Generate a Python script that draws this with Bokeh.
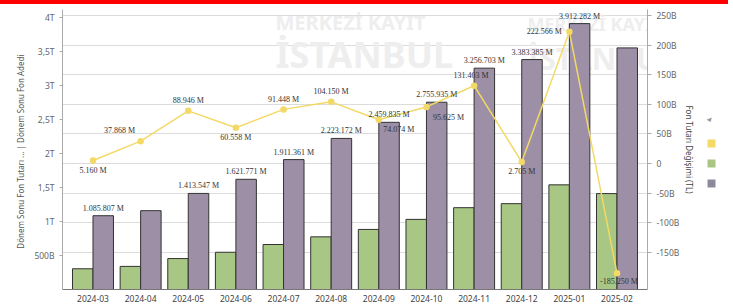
from bokeh.plotting import figure
from bokeh.models import (Range1d, LinearAxis, FixedTicker, ColumnDataSource, Legend,
                          LegendItem, Label, LabelSet, Div)
from bokeh.layouts import row, column
from bokeh.embed import file_html
from bokeh.resources import INLINE

# ---------------- data (values in million TL) ----------------
months = ["2024-03", "2024-04", "2024-05", "2024-06", "2024-07", "2024-08",
          "2024-09", "2024-10", "2024-11", "2024-12", "2025-01", "2025-02"]
fon_adedi = [305000, 340000, 455000, 548000, 662000, 775000,
             884000, 1032000, 1204000, 1263000, 1540000, 1411000]
fon_tutari = [1085807, 1160000, 1413547, 1621771, 1911361, 2223172,
              2459835, 2755935, 3256703, 3383385, 3912282, 3555000]
tutar_label_shown = [True, False, True, True, True, True,
                     True, True, True, True, True, False]
tutar_degisimi = [5160, 37868, 88946, 60558, 91448, 104150,
                  74074, 95625, 131403, 2705, 222566, -185250]
left_ticks = [500000, 1000000, 1500000, 2000000, 2500000, 3000000, 3500000, 4000000]
left_tick_labels = ["500B", "1T", "1,5T", "2T", "2,5T", "3T", "3,5T", "4T"]
right_ticks = [-150000, -100000, -50000, 0, 50000, 100000, 150000, 200000, 250000]
right_tick_labels = ["-150B", "-100B", "-50B", "0", "50B", "100B", "150B", "200B", "250B"]

# label offsets (px) for the change line labels -- style only
chg_dx = [0, -21, 0, 0, 0, 0, 20, 22, -3, 0, -25, 2]
chg_dy = [-10, 11, 10, -10, 10, 10, -10, -11, 10, -10, 0, -8]

GREEN = "#a9c784"
PURPLE = "#9d8fa6"
YELLOW = "#f3d966"
FONT = "Noto Sans"
H = 300


def fmt(v):
    s = f"{abs(v):,}".replace(",", ".")
    return ("-" if v < 0 else "") + s + " M"


idx = list(range(len(months)))
BW = 0.43
src = ColumnDataSource(dict(
    xg=[i - BW / 2 for i in idx],
    xp=[i + BW / 2 for i in idx],
    x=idx,
    adet=fon_adedi,
    tutar=fon_tutari,
    tutar_lbl=[fmt(v) if s else "" for v, s in zip(fon_tutari, tutar_label_shown)],
    chg=tutar_degisimi,
    chg_lbl=[fmt(v) for v in tutar_degisimi],
    dx=chg_dx,
    dy=chg_dy,
))

p = figure(width=698, height=H, output_backend="svg", toolbar_location=None,
           x_range=Range1d(-0.64, len(months) - 1 + 0.64),
           y_range=Range1d(0, 4120000),
           min_border_left=62, min_border_right=0, min_border_top=5, min_border_bottom=0,
           margin=0)
p.extra_y_ranges = {"chg": Range1d(-212500, 260000)}
p.outline_line_color = None
p.background_fill_color = "white"
p.border_fill_color = "white"

# watermark
for wx, s1, s2 in [(213, "20px", "36px"), (465, "18px", "30px")]:
    p.add_layout(Label(x=wx, y=254, x_units="screen", y_units="screen", text="MERKEZİ KAYIT",
                       text_font=FONT, text_font_size=s1, text_color="#eeeeee",
                       text_font_style="bold", level="underlay"))
    p.add_layout(Label(x=wx, y=211, x_units="screen", y_units="screen", text="İSTANBUL",
                       text_font=FONT, text_font_size=s2, text_color="#eeeeee",
                       text_font_style="bold", level="underlay"))

# axes
p.xaxis.ticker = FixedTicker(ticks=idx)
p.xaxis.major_label_overrides = {i: m for i, m in zip(idx, months)}
p.xaxis.major_tick_line_color = None
p.xaxis.major_tick_out = 0
p.xaxis.major_tick_in = 0
p.xaxis.minor_tick_line_color = None
p.xaxis.axis_line_color = "#777777"
p.xaxis.major_label_standoff = 5
p.xaxis.major_label_text_font = FONT
p.xaxis.major_label_text_font_size = "8.5px"
p.xaxis.major_label_text_color = "#444444"

p.yaxis.ticker = FixedTicker(ticks=left_ticks)
p.yaxis.major_label_overrides = dict(zip(left_ticks, left_tick_labels))
p.yaxis.axis_label = "Dönem Sonu Fon Tutarı ...  |  Dönem Sonu Fon Adedi"
p.yaxis.axis_label_text_font = FONT
p.yaxis.axis_label_text_font_size = "8px"
p.yaxis.axis_label_text_font_style = "normal"
p.yaxis.axis_label_text_color = "#555555"
p.yaxis.axis_label_standoff = 5
p.yaxis.major_label_text_font = FONT
p.yaxis.major_label_text_font_size = "8.5px"
p.yaxis.major_label_text_color = "#666666"
p.yaxis.axis_line_color = "#aaaaaa"
p.yaxis.major_tick_line_color = "#aaaaaa"
p.yaxis.major_tick_out = 3
p.yaxis.major_tick_in = 0
p.yaxis.minor_tick_line_color = None

raxis = LinearAxis(y_range_name="chg", ticker=FixedTicker(ticks=right_ticks),
                   major_label_overrides=dict(zip(right_ticks, right_tick_labels)),
                   axis_label="Fon Tutarı Değişimi (TL)")
raxis.axis_label_text_font = FONT
raxis.axis_label_text_font_size = "8px"
raxis.axis_label_text_font_style = "normal"
raxis.axis_label_text_color = "#444444"
raxis.axis_label_standoff = 2
raxis.major_label_text_font = FONT
raxis.major_label_text_font_size = "8.5px"
raxis.major_label_text_color = "#666666"
raxis.axis_line_color = "#aaaaaa"
raxis.major_tick_line_color = "#aaaaaa"
raxis.major_tick_out = 4
raxis.major_tick_in = 0
raxis.minor_tick_line_color = None
p.add_layout(raxis, "right")

# grid follows right axis
p.xgrid.visible = False
p.ygrid.ticker = FixedTicker(ticks=right_ticks)
p.ygrid.y_range_name = "chg"
p.ygrid.grid_line_color = "#dcdcdc"

# bars
p.vbar(x="xg", width=BW, top="adet", bottom=0, source=src,
       fill_color=GREEN, line_color="#333333", line_width=1)
p.vbar(x="xp", width=BW, top="tutar", bottom=0, source=src,
       fill_color=PURPLE, line_color="#333333", line_width=1)

# line
p.line(x="x", y="chg", source=src, y_range_name="chg", line_color=YELLOW, line_width=1.5)
p.scatter(x="x", y="chg", source=src, y_range_name="chg", size=6.5,
          fill_color=YELLOW, line_color=None)

# labels
p.add_layout(LabelSet(x="xp", y="tutar", text="tutar_lbl", source=src, y_offset=3,
                      text_align="center", text_baseline="bottom",
                      text_font=FONT, text_font_size="8px", text_color="#333333"))
p.add_layout(LabelSet(x="x", y="chg", text="chg_lbl", source=src, y_range_name="chg",
                      x_offset="dx", y_offset="dy",
                      text_align="center", text_baseline="middle",
                      text_font=FONT, text_font_size="8px", text_color="#333333"))

# legend strip (labels truncated in the original)
lf = figure(width=30, height=H, output_backend="svg", toolbar_location=None,
            x_range=Range1d(0, 1), y_range=Range1d(0, 1),
            min_border=0, outline_line_color=None, margin=0)
lf.axis.visible = False
lf.grid.visible = False
lf.border_fill_color = "white"
lf.background_fill_color = "white"
ly = lf.vbar(x=[10], top=[10], width=0.4, fill_color=YELLOW, line_color=None)
lg = lf.vbar(x=[10], top=[10], width=0.4, fill_color=GREEN, line_color=None)
lp = lf.vbar(x=[10], top=[10], width=0.4, fill_color="#8e8a9c", line_color=None)
legend = Legend(items=[LegendItem(label=" ", renderers=[ly]),
                       LegendItem(label=" ", renderers=[lg]),
                       LegendItem(label=" ", renderers=[lp])],
                location=(8, 101), title="◂",
                title_text_font_size="9px", title_text_color="#999999", title_standoff=14,
                label_width=0, label_standoff=0, label_text_font_size="4px",
                glyph_width=10, glyph_height=10, spacing=10, padding=0, margin=0,
                border_line_color=None, background_fill_alpha=0)
lf.add_layout(legend)

bar = Div(text="", width=728, height=4, margin=0,
          styles={"background-color": "#ff0000", "line-height": "0px", "font-size": "0px"})

layout = column(bar, row(p, lf, margin=0, spacing=0), margin=0, spacing=0)
open("out.html", "w").write(file_html(layout, INLINE))
